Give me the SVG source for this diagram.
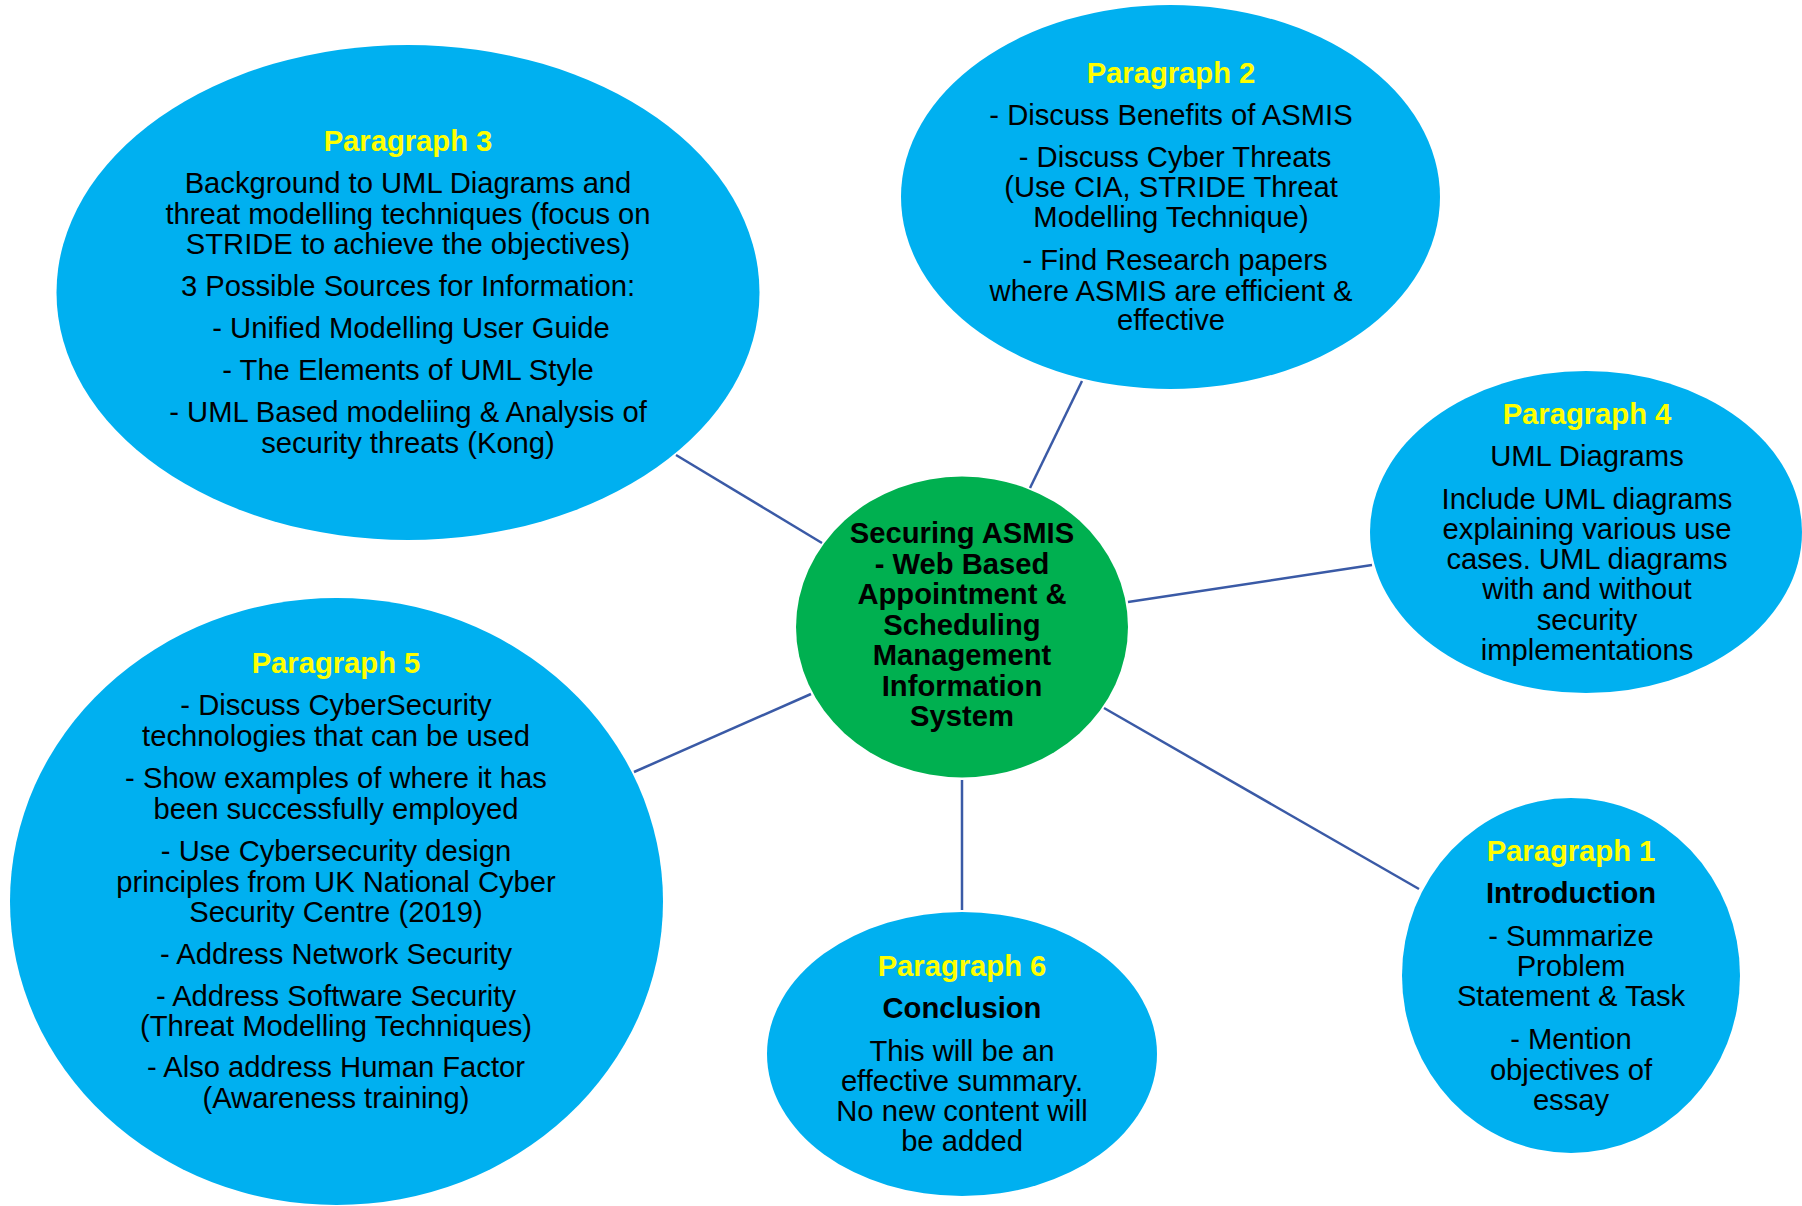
<svg xmlns="http://www.w3.org/2000/svg" width="1802" height="1206" viewBox="0 0 1802 1206">
<style>
.bub{fill:#00B0F0}
.core{fill:#00B050}
.t{font-family:"Liberation Sans",Arial,sans-serif;font-size:29.2px;fill:#000;text-anchor:middle}
.h{font-weight:bold;fill:#FFFF00}
.b{font-weight:bold}
.c{stroke:#3A5AA6;stroke-width:2.5;fill:none}
</style>
<rect width="1802" height="1206" fill="#fff"/>
<g id="connectors">
<line class="c" x1="676" y1="455" x2="822" y2="543"/>
<line class="c" x1="1082" y1="381" x2="1030" y2="488"/>
<line class="c" x1="1372" y1="565" x2="1128" y2="602"/>
<line class="c" x1="634" y1="772" x2="811" y2="694"/>
<line class="c" x1="962" y1="780" x2="962" y2="910"/>
<line class="c" x1="1104" y1="708" x2="1419" y2="889"/>
</g>
<g id="paragraph3">
<ellipse class="bub" cx="408" cy="292.5" rx="351.5" ry="247.5"/>
<text class="t h" x="408" y="151">Paragraph 3</text>
<text class="t" x="408" y="193">Background to UML Diagrams and</text>
<text class="t" x="408" y="223.5">threat modelling techniques (focus on</text>
<text class="t" x="408" y="254">STRIDE to achieve the objectives)</text>
<text class="t" x="408" y="296">3 Possible Sources for Information:</text>
<text class="t" x="411" y="338">- Unified Modelling User Guide</text>
<text class="t" x="408" y="380">- The Elements of UML Style</text>
<text class="t" x="408" y="422">- UML Based modeliing &amp; Analysis of</text>
<text class="t" x="408" y="452.5">security threats (Kong)</text>
</g>
<g id="paragraph2">
<ellipse class="bub" cx="1170.5" cy="197" rx="269.5" ry="192"/>
<text class="t h" x="1171" y="83">Paragraph 2</text>
<text class="t" x="1171" y="124.5">- Discuss Benefits of ASMIS</text>
<text class="t" x="1175" y="166.5">- Discuss Cyber Threats</text>
<text class="t" x="1171" y="197">(Use CIA, STRIDE Threat</text>
<text class="t" x="1171" y="227">Modelling Technique)</text>
<text class="t" x="1175" y="269.5">- Find Research papers</text>
<text class="t" x="1171" y="300.5">where ASMIS are efficient &amp;</text>
<text class="t" x="1171" y="330">effective</text>
</g>
<g id="paragraph4">
<ellipse class="bub" cx="1586" cy="532" rx="216" ry="161"/>
<text class="t h" x="1587" y="424">Paragraph 4</text>
<text class="t" x="1587" y="466">UML Diagrams</text>
<text class="t" x="1587" y="508.5">Include UML diagrams</text>
<text class="t" x="1587" y="538.5">explaining various use</text>
<text class="t" x="1587" y="569">cases. UML diagrams</text>
<text class="t" x="1587" y="599">with and without</text>
<text class="t" x="1587" y="629.5">security</text>
<text class="t" x="1587" y="660">implementations</text>
</g>
<g id="paragraph5">
<ellipse class="bub" cx="336.5" cy="901.5" rx="326.5" ry="303.5"/>
<text class="t h" x="336" y="673">Paragraph 5</text>
<text class="t" x="336" y="715">- Discuss CyberSecurity</text>
<text class="t" x="336" y="746">technologies that can be used</text>
<text class="t" x="336" y="788">- Show examples of where it has</text>
<text class="t" x="336" y="819">been successfully employed</text>
<text class="t" x="336" y="861">- Use Cybersecurity design</text>
<text class="t" x="336" y="891.5">principles from UK National Cyber</text>
<text class="t" x="336" y="922">Security Centre (2019)</text>
<text class="t" x="336" y="963.5">- Address Network Security</text>
<text class="t" x="336" y="1006">- Address Software Security</text>
<text class="t" x="336" y="1036">(Threat Modelling Techniques)</text>
<text class="t" x="336" y="1077">- Also address Human Factor</text>
<text class="t" x="336" y="1108">(Awareness training)</text>
</g>
<g id="center">
<ellipse class="core" cx="962" cy="627" rx="166" ry="150.5"/>
<text class="t b" x="962" y="543">Securing ASMIS</text>
<text class="t b" x="962" y="573.5">- Web Based</text>
<text class="t b" x="962" y="604">Appointment &amp;</text>
<text class="t b" x="962" y="634.5">Scheduling</text>
<text class="t b" x="962" y="665">Management</text>
<text class="t b" x="962" y="695.5">Information</text>
<text class="t b" x="962" y="726">System</text>
</g>
<g id="paragraph6">
<ellipse class="bub" cx="962" cy="1054" rx="195" ry="142"/>
<text class="t h" x="962" y="976">Paragraph 6</text>
<text class="t b" x="962" y="1017.5">Conclusion</text>
<text class="t" x="962" y="1060.5">This will be an</text>
<text class="t" x="962" y="1090.5">effective summary.</text>
<text class="t" x="962" y="1120.5">No new content will</text>
<text class="t" x="962" y="1150.5">be added</text>
</g>
<g id="paragraph1">
<ellipse class="bub" cx="1571" cy="975.5" rx="169" ry="177.5"/>
<text class="t h" x="1571" y="860.5">Paragraph 1</text>
<text class="t b" x="1571" y="902.5">Introduction</text>
<text class="t" x="1571" y="946">- Summarize</text>
<text class="t" x="1571" y="976">Problem</text>
<text class="t" x="1571" y="1006">Statement &amp; Task</text>
<text class="t" x="1571" y="1049">- Mention</text>
<text class="t" x="1571" y="1079.5">objectives of</text>
<text class="t" x="1571" y="1109.5">essay</text>
</g>
</svg>
